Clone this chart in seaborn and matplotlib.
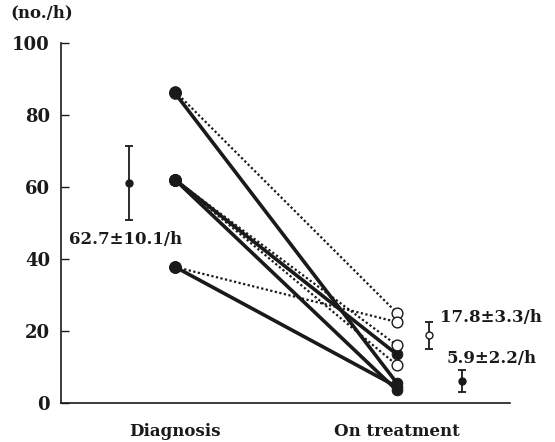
import matplotlib
matplotlib.use("Agg")
import matplotlib.pyplot as plt
import seaborn as sns
import pandas as pd

# --- data ---
categories = ["Diagnosis", "On treatment"]
diag_values = [86.5, 86.0, 62.0, 62.0, 62.0, 62.0, 37.8, 37.8]
treat_values = [25.0, 5.5, 16.0, 10.5, 13.5, 3.5, 22.5, 4.5]
groups = ["open", "filled", "open", "open", "filled", "filled", "open", "filled"]

diag_mean, diag_err = 61.1, 10.4
open_mean, open_err = 18.8, 3.7
filled_mean, filled_err = 6.1, 3.1
diag_label = "62.7±10.1/h"
open_label = "17.8±3.3/h"
filled_label = "5.9±2.2/h"
unit_label = "(no./h)"

rows = []
for i, (d, t, g) in enumerate(zip(diag_values, treat_values, groups)):
    rows.append({"patient": i, "x": 0, "value": d, "group": g})
    rows.append({"patient": i, "x": 1, "value": t, "group": g})
df = pd.DataFrame(rows)

sns.set_style("white")
plt.rcParams["font.family"] = ["DejaVu Serif"]
plt.rcParams["font.weight"] = "bold"

fig = plt.figure(figsize=(5.55, 4.42), dpi=100)
ax = fig.add_axes([0.110, 0.088, 0.809, 0.815])

sns.lineplot(data=df, x="x", y="value", units="patient", style="group",
             estimator=None, color="#1a1a1a", ax=ax, legend=False,
             style_order=["filled", "open"],
             dashes={"filled": "", "open": (1, 1.1)}, sort=False)
for line in ax.lines:
    ls = line.get_linestyle()
    line.set_linewidth(2.6 if ls == "-" else 1.6)

# markers at diagnosis (all filled)
d0 = df[df["x"] == 0]
sns.scatterplot(data=d0, x="x", y="value", color="#1a1a1a", s=70,
                edgecolor="#1a1a1a", ax=ax, legend=False, zorder=5)
# markers on treatment
t_f = df[(df["x"] == 1) & (df["group"] == "filled")]
t_o = df[(df["x"] == 1) & (df["group"] == "open")]
sns.scatterplot(data=t_f, x="x", y="value", color="#1a1a1a", s=60,
                edgecolor="#1a1a1a", ax=ax, legend=False, zorder=5)
sns.scatterplot(data=t_o, x="x", y="value", color="white", s=60,
                edgecolor="#1a1a1a", linewidth=1.0, ax=ax, legend=False, zorder=6)

# mean ± error bars
ax.errorbar([-0.207], [diag_mean], yerr=[diag_err], fmt="o", color="#1a1a1a",
            ms=5, capsize=3, elinewidth=1.3, capthick=1.3)
ax.errorbar([1.144], [open_mean], yerr=[open_err], fmt="o", color="#1a1a1a",
            mfc="white", ms=5, capsize=3, elinewidth=1.3, capthick=1.3)
ax.errorbar([1.293], [filled_mean], yerr=[filled_err], fmt="o", color="#1a1a1a",
            ms=5, capsize=3, elinewidth=1.3, capthick=1.3)

ax.text(-0.225, 45.3, diag_label, ha="center", va="center", fontsize=12,
        fontweight="bold", color="#1a1a1a")
ax.text(1.194, 23.9, open_label, ha="left", va="center", fontsize=12,
        fontweight="bold", color="#1a1a1a")
ax.text(1.225, 12.5, filled_label, ha="left", va="center", fontsize=12,
        fontweight="bold", color="#1a1a1a")
fig.text(10 / 555, 1 - 13 / 442, unit_label, ha="left", va="center",
         fontsize=12, fontweight="bold", color="#1a1a1a")

ax.set_xlim(-0.514, 1.509)
ax.set_ylim(0, 100)
ax.set_yticks([0, 20, 40, 60, 80, 100])
ax.set_xticks([0.5])
ax.set_xticklabels([""])
ax.set_xticks([0, 1], minor=True)
ax.set_xticklabels(categories, minor=True)
ax.tick_params(axis="x", which="minor", length=0, pad=14, labelsize=12)
ax.tick_params(axis="x", which="major", direction="in", length=6, width=1, color="#1a1a1a")
ax.tick_params(axis="y", direction="in", length=6, width=1, pad=8, labelsize=13,
               color="#1a1a1a", left=True)
for lab in ax.get_yticklabels() + ax.get_xticklabels(minor=True):
    lab.set_fontweight("bold")
    lab.set_color("#1a1a1a")
ax.set_xlabel("")
ax.set_ylabel("")
for s in ["top", "right"]:
    ax.spines[s].set_visible(False)
for s in ["left", "bottom"]:
    ax.spines[s].set_color("#1a1a1a")
    ax.spines[s].set_linewidth(1.2)

fig.savefig("out.png", dpi=100)
